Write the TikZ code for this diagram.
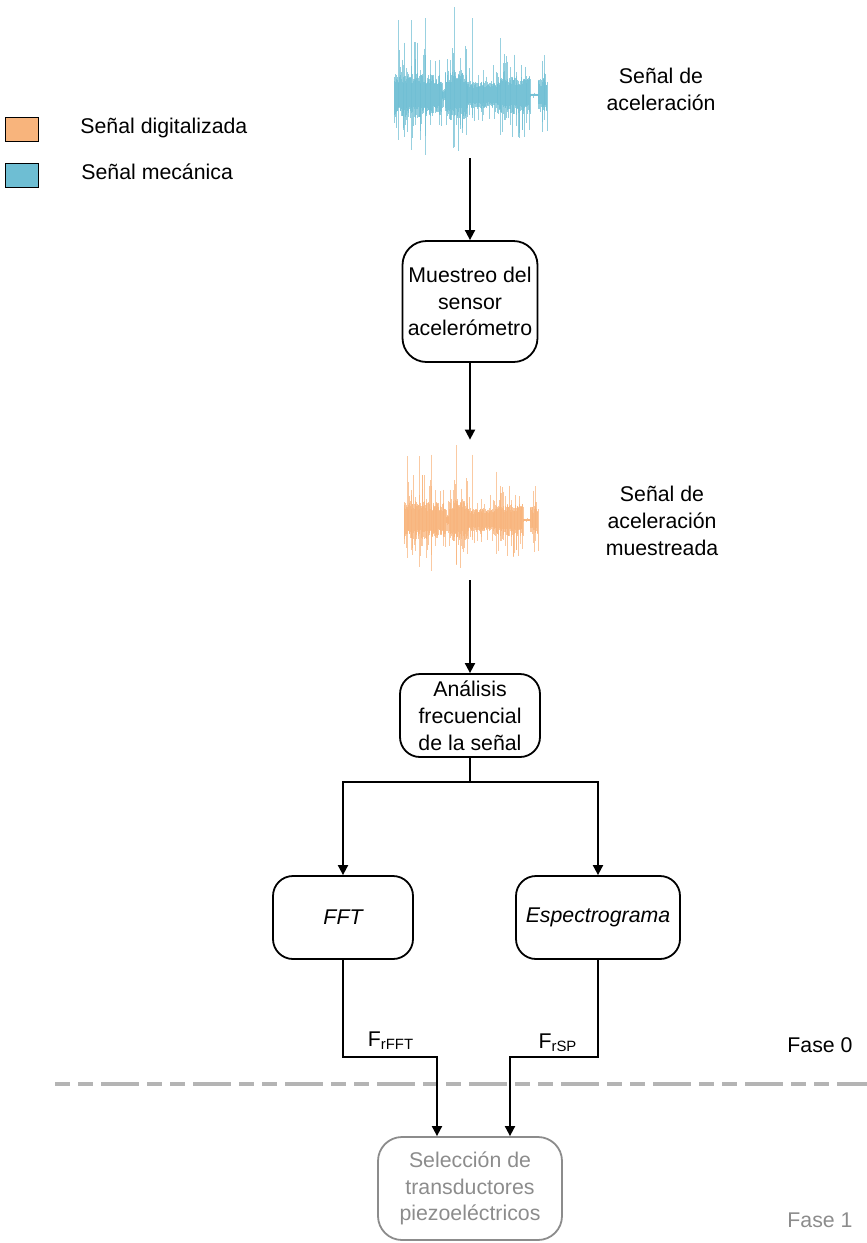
\documentclass[tikz,border=0pt]{standalone}
\usepackage{fontspec}
\setmainfont{Liberation Sans}
\usepackage{tikz}
\usetikzlibrary{arrows.meta,positioning,calc}
\definecolor{sigcyan}{RGB}{110,190,211}
\definecolor{sigorange}{RGB}{248,180,124}
\definecolor{phasegray}{RGB}{140,140,140}
\definecolor{cutgray}{RGB}{180,180,180}
\newcommand{\diagfont}{\fontsize{10.65}{13.4}\selectfont}

% forma de onda (x en px desde el borde izquierdo, y desde el eje)
\tikzset{
  wavesig/.pic={
    \pgfmathsetseed{42}
    \foreach \xa/\xb/\amp in {0/26/23, 26/48/21, 48/51/6, 51/73/25, 73/103/14, 103/136/19, 136/144/1.5, 144/153/17}{
      \pgfmathtruncatemacro\nsteps{(\xb-\xa)*2}
      \foreach \k in {0,...,\nsteps}{
        \pgfmathsetmacro\xx{\xa+\k*0.5}
        \pgfmathsetmacro\up{\amp*(0.5+0.5*rnd)*ifthenelse(rnd>0.86,2.3,1)}
        \pgfmathsetmacro\dn{\amp*(0.5+0.5*rnd)*ifthenelse(rnd>0.86,2.3,1)}
        \draw[line width=0.4pt, draw opacity=0.75] (\xx,-\up) -- (\xx,\dn);
      }
    }
    \foreach \xx/\up/\dn in {4.3/75/45, 17.7/75/55, 31/77/60, 60/88/52, 72/20/40, 78.7/77/20,
        106/57/40, 132.7/15/28, 150/40/25, 12.7/27/25, 21/53/30, 36/35/30, 56/35/25, 66/37/30,
        89/25/20, 111/32/25, 122.7/23/20, 9/30/35, 26/25/45, 45/20/30, 84/20/25, 116/28/30}{
      \draw[line width=0.5pt, draw opacity=0.7] (\xx,-\up) -- (\xx,\dn);
    }
  }
}

\begin{document}
\begin{tikzpicture}[x=0.5pt,y=-0.5pt,>={Triangle[length=5pt,width=5pt]},font=\diagfont,
  blk/.style={draw, line width=0.9pt, align=center, inner sep=0pt},
  flow/.style={->, line width=0.9pt}]
\useasboundingbox (0,0) rectangle (867,1243);

% leyenda
\node (legdig) [draw, line width=0.5pt, fill=sigorange, minimum width=16.5pt, minimum height=12pt, inner sep=0pt] at (21.5,129) {};
\node (legmec) [draw, line width=0.5pt, fill=sigcyan, minimum width=16.5pt, minimum height=12pt, inner sep=0pt] at (21.5,175) {};
\node (legdigtxt) [anchor=west, inner sep=0pt] at (80,128) {Señal digitalizada};
\node (legmectxt) [anchor=west, inner sep=0pt] at (81,172) {Señal mecánica};

% señales
\pic[color=sigcyan] at (394,95) {wavesig};
\node (mecwave) [minimum width=77pt, minimum height=76pt] at (470,82) {};
\pic[color=sigorange, xscale=0.876, yscale=0.85] at (404,520) {wavesig};
\node (digwave) [minimum width=67pt, minimum height=70pt] at (470,510) {};
\node (mectxt) [align=center] at (661,89) {Señal de\\aceleración};
\node (digtxt) [align=center] at (662,521) {Señal de\\aceleración\\muestreada};

% bloques
\node (muestreo) [blk, rounded corners=12pt, minimum width=67.5pt, minimum height=60.5pt] at (470,301.5) {Muestreo del\\sensor\\acelerómetro};
\node (analisis) [blk, rounded corners=10pt, minimum width=70pt, minimum height=41.5pt] at (470,715.5) {Análisis\\frecuencial\\de la señal};
\node (fft) [blk, rounded corners=10pt, minimum width=70pt, minimum height=41.5pt, font=\diagfont\itshape] at (343,917.5) {FFT};
\node (espectro) [blk, rounded corners=10pt, minimum width=82pt, minimum height=41.5pt, font=\diagfont\itshape] at (598,917.5) {Espectrograma};
\node (seleccion) [blk, draw=phasegray, text=phasegray, rounded corners=12pt, minimum width=92pt, minimum height=51.5pt] at (470,1188.5) {Selección de\\transductores\\piezoeléctricos};

% separación de fases
\draw[cutgray, line width=1.75pt, dash pattern=on 7.5pt off 4pt on 7.5pt off 4pt on 19pt off 4pt] (55,1084) -- (867,1084);
\node (fase0) at (820,1045) {Fase 0};
\node (fase1) [text=phasegray] at (820,1220) {Fase 1};

% conexiones
\coordinate (split) at (470,782);
\coordinate (jfft) at (437,1057);
\coordinate (jesp) at (510,1057);
\draw[flow] (mecwave) -- (muestreo);
\draw[flow] (muestreo) -- (digwave);
\draw[flow] (digwave) -- (analisis);
\draw[flow] (analisis) -- (split) -| (fft);
\draw[flow] (split) -| (espectro);
\draw[flow] (fft) |- (jfft) -- (jfft |- seleccion.north);
\draw[flow] (espectro) |- (jesp) -- (jesp |- seleccion.north);
\node (frfft) at (391,1041) {F\textsubscript{rFFT}};
\node (frsp) at (558,1043) {F\textsubscript{rSP}};
\end{tikzpicture}
\end{document}
